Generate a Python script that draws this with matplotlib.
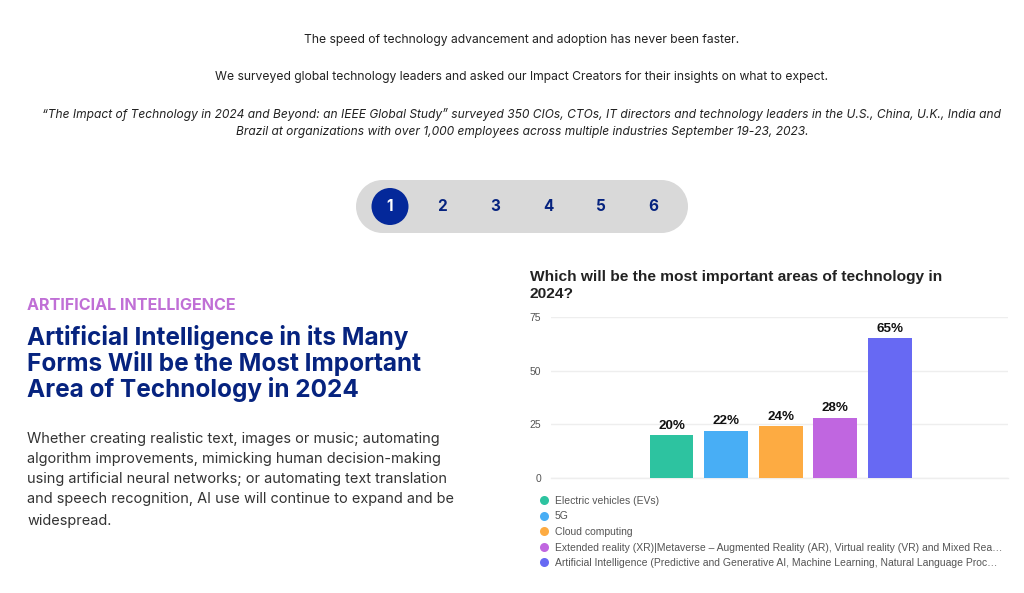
import matplotlib
matplotlib.use("Agg")
import matplotlib.pyplot as plt
from matplotlib.lines import Line2D
from matplotlib.patches import Circle, FancyBboxPatch

categories = [
    "Electric vehicles (EVs)",
    "5G",
    "Cloud computing",
    "Extended reality (XR)|Metaverse – Augmented Reality (AR), Virtual reality (VR) and Mixed Rea…",
    "Artificial Intelligence (Predictive and Generative AI, Machine Learning, Natural Language Proc…",
]
values = [20, 22, 24, 28, 65]
colors = ["#2dc3a0", "#48aef5", "#fdab42", "#c066e0", "#6769f3"]
y_ticks = [0, 25, 50, 75]
page_numbers = ["1", "2", "3", "4", "5", "6"]
number_x = [390, 442, 495, 548, 601, 653]

NAVY = "#06237f"
W, H = 1024, 593
SANS = ["Liberation Sans", "DejaVu Sans"]

plt.rcParams["font.family"] = ["Inter", "DejaVu Sans"]
fig = plt.figure(figsize=(W / 100, H / 100), dpi=100, facecolor="white")

# page layer, in pixel coordinates
bg = fig.add_axes([0, 0, 1, 1])
bg.set_xlim(0, W)
bg.set_ylim(H, 0)
bg.axis("off")

# intro text
bg.text(521.5, 40, "The speed of technology advancement and adoption has never been faster.",
        ha="center", va="center", fontsize=8.74, color="#222222")
bg.text(521.5, 77, "We surveyed global technology leaders and asked our Impact Creators for their insights on what to expect.",
        ha="center", va="center", fontsize=8.74, color="#222222")
bg.text(522, 114.5, "“The Impact of Technology in 2024 and Beyond: an IEEE Global Study” surveyed 350 CIOs, CTOs, IT directors and technology leaders in the U.S., China, U.K., India and",
        ha="center", va="center", fontsize=8.63, style="italic", color="#222222")
bg.text(522, 131.5, "Brazil at organizations with over 1,000 employees across multiple industries September 19-23, 2023.",
        ha="center", va="center", fontsize=8.63, style="italic", color="#222222")

# pager
bg.add_patch(FancyBboxPatch((382.5, 180), 279, 53, boxstyle="round,pad=0,rounding_size=0.1",
                            mutation_scale=1, fc="#d9d9d9", ec="none"))
bg.add_patch(Circle((382.5, 206.5), 26.5, fc="#d9d9d9", ec="none"))
bg.add_patch(Circle((661.5, 206.5), 26.5, fc="#d9d9d9", ec="none"))
bg.add_patch(Circle((390, 206.5), 18.5, fc="#04289a", ec="none"))
for i, (num, x) in enumerate(zip(page_numbers, number_x)):
    bg.text(x, 206.5, num, ha="center", va="center", fontsize=11, fontweight="bold",
            color="white" if i == 0 else NAVY)

# left column
bg.text(27, 306, "ARTIFICIAL INTELLIGENCE", va="center", fontsize=11.6, fontweight="bold", color="#c06fd6")
for y, line in zip([337, 363.5, 390], ["Artificial Intelligence in its Many",
                                       "Forms Will be the Most Important",
                                       "Area of Technology in 2024"]):
    bg.text(27, y, line, va="center", fontsize=17.55, fontweight="bold", color=NAVY)
for y, line in zip([438.5, 458.5, 479.5, 499.5, 520.5], [
        "Whether creating realistic text, images or music; automating",
        "algorithm improvements, mimicking human decision-making",
        "using artificial neural networks; or automating text translation",
        "and speech recognition, AI use will continue to expand and be",
        "widespread."]):
    bg.text(27, y, line, va="center", fontsize=10.45, color="#333333")

# chart title
bg.text(530, 276.5, "Which will be the most important areas of technology in", va="center",
        fontsize=11.15, fontweight="bold", family=SANS, color="#222222")
bg.text(530, 294.5, "2024?", va="center",
        fontsize=11.15, fontweight="bold", family=SANS, color="#222222")

# bar chart
ax = fig.add_axes([551 / W, 1 - 478 / H, (1008 - 551) / W, (478 - 317) / H])
ax.patch.set_alpha(0)
x = list(range(len(values)))
bars = ax.bar(x, values, width=0.8, color=colors, zorder=3)
ax.set_xlim(-2.207, 6.163)
ax.set_ylim(0, 75)
ax.set_yticks(y_ticks)
ax.set_xticks([])
ax.tick_params(axis="y", length=0, pad=7, labelsize=7.5, labelcolor="#555555")
for t in ax.get_yticklabels():
    t.set_family(SANS)
ax.grid(axis="y", color="#eeeeee", lw=1, zorder=0)
ax.set_axisbelow(True)
for s in ax.spines.values():
    s.set_visible(False)
ax.axhline(0, color="#eeeeee", lw=1, zorder=1, clip_on=False)
for b, v in zip(bars, values):
    ax.annotate(f"{v}%", (b.get_x() + b.get_width() / 2, v), xytext=(0, 2.5), textcoords="offset points",
                ha="center", va="bottom", fontsize=9.6, fontweight="bold",
                family=SANS, color="#111111")

# legend
handles = [Line2D([], [], ls="none", marker="o", ms=6.5, mfc=c, mec="none") for c in colors]
ax.legend(handles, categories, loc="upper left", bbox_to_anchor=((538.8 - 551) / (1008 - 551), -0.11),
          frameon=False, ncol=1, labelspacing=0.54, handlelength=1, handletextpad=0.56,
          borderpad=0, borderaxespad=0, labelcolor="#555555",
          prop={"family": SANS, "size": 7.47})

fig.savefig("out.png", dpi=100)
